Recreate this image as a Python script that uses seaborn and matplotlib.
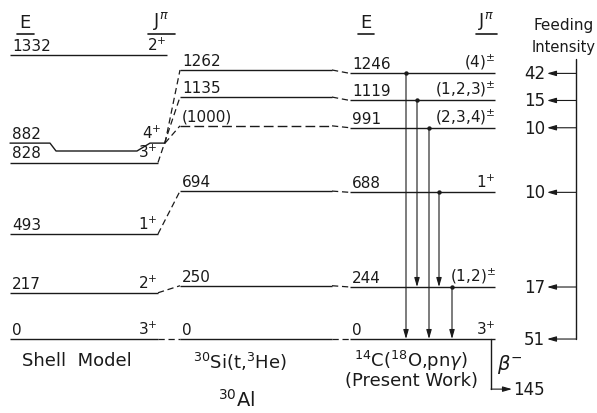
import matplotlib
matplotlib.use("Agg")
import matplotlib.pyplot as plt
import seaborn as sns
import pandas as pd

sns.set_theme(style="white")
plt.rcParams["font.family"] = ["DejaVu Sans"]
plt.rcParams["mathtext.fontset"] = "dejavusans"

# ---- level energies (keV) and spins ----
shell_E = [0, 217, 493, 828, 882, 1332]
shell_J = [r"3$^{+}$", r"2$^{+}$", r"1$^{+}$", r"3$^{+}$", r"4$^{+}$", r"2$^{+}$"]

the_E = [0, 250, 694, 1000, 1135, 1262]
the_lbl = ["0", "250", "694", "(1000)", "1135", "1262"]

present_E = [0, 244, 688, 991, 1119, 1246]
present_J = [r"3$^{+}$", r"(1,2)$^{\pm}$", r"1$^{+}$", r"(2,3,4)$^{\pm}$",
             r"(1,2,3)$^{\pm}$", r"(4)$^{\pm}$"]
feeding = [51, 17, 10, 10, 15, 42]
beta_label = "145"

# gamma transitions: initial level, final level
gamma_from = [1246, 1119, 991, 688, 244]
gamma_to = [0, 244, 0, 244, 0]

# shell-model <-> (t,3He) correspondences
shell_link = [(0, 0), (217, 250), (493, 694), (828, 1135), (882, 1262), (882, 1000)]

# ---- layout ----
C1 = (10, 158)
C2 = (180, 332)
C3 = (350, 495)
gamma_x = [406, 417, 429, 439, 452]
FEED_X = 576
RAISE = 37  # keV lift for the 882 label ends
INK = "#1a1a1a"
LW = 1.0
HEAD = "-|>,head_length=0.45,head_width=0.13"

fig = plt.figure(figsize=(5.97, 4.14), dpi=100)
ax = fig.add_axes([0, 0, 1, 1])
ax.set_xlim(0, 597)
ax.set_ylim(-347, 1595)
ax.axis("off")


def level(x0, x1, e, dashed=False):
    ax.plot([x0, x1], [e, e], color=INK, lw=LW, ls=(0, (7, 3)) if dashed else "-",
            solid_capstyle="butt")


def above(x, e, s, ha="left", size=11):
    ax.annotate(s, (x, e), xytext=(0, 1.5), textcoords="offset points",
                ha=ha, va="bottom", fontsize=size, color=INK)


def link(x0, e0, x1, e1):
    ax.plot([x0, x1], [e0, e1], color=INK, lw=0.9, ls=(0, (5, 3)))


def arrow(x0, e0, x1, e1):
    ax.annotate("", xy=(x1, e1), xytext=(x0, e0),
                arrowprops=dict(arrowstyle=HEAD, color=INK, lw=0.8,
                                shrinkA=0, shrinkB=0))


# ---- shell model column ----
for e, j in zip(shell_E, shell_J):
    if e == 882:
        top = e + RAISE
        ax.plot([C1[0], 50, 56, 137, 150, 165], [top, top, e, e, top, top],
                color=INK, lw=LW)
        above(C1[0] + 2, top, str(e))
        above(162, top, j, ha="right")
        continue
    x1 = 167 if e == 1332 else C1[1]
    level(C1[0], x1, e)
    above(C1[0] + 2, e, str(e))
    above(x1, e, j, ha="right")

# ---- (t,3He) column ----
for e, s in zip(the_E, the_lbl):
    level(C2[0], C2[1], e, dashed=(s.startswith("(")))
    above(C2[0] + 2, e, s)

# ---- present work column ----
for e, j in zip(present_E, present_J):
    level(C3[0], C3[1], e)
    above(C3[0] + 2, e, str(e))
    above(C3[1] + 1, e, j, ha="right")

# ---- correspondence links ----
for es, et in shell_link:
    xs = 165 if es == 882 else C1[1]
    ys = es + RAISE if es == 882 else es
    link(xs, ys, C2[0], et)
for et, ep in zip(the_E, present_E):
    link(C2[1], et, C3[0], ep)

# ---- gamma transitions ----
gdf = pd.DataFrame({"x": gamma_x, "Ei": gamma_from, "Ef": gamma_to})
for _, r in gdf.iterrows():
    arrow(r.x, r.Ei, r.x, r.Ef)
sns.scatterplot(data=gdf, x="x", y="Ei", ax=ax, color=INK, s=10,
                edgecolor=INK, linewidth=0, legend=False)

# ---- feeding intensities ----
ax.plot([FEED_X, FEED_X], [0, 1313], color=INK, lw=LW)
for e, f in zip(present_E, feeding):
    arrow(FEED_X, e, 547, e)
    ax.text(545, e, str(f), ha="right", va="center", fontsize=12, color=INK)
ax.text(564, 1477, "Feeding", ha="center", va="center", fontsize=11, color=INK)
ax.text(564, 1374, "Intensity", ha="center", va="center", fontsize=10.5, color=INK)

# ---- beta decay branch ----
ax.plot([491, 491], [0, -235], color=INK, lw=LW)
arrow(491, -235, 512, -235)
ax.text(513, -235, beta_label, ha="left", va="center", fontsize=12, color=INK)
ax.text(497, -117, r"$\beta^{-}$", ha="left", va="center", fontsize=14, color=INK)

# ---- column headers ----
for x, s in [(25, "E"), (161, r"J$^{\pi}$"), (366, "E"), (486, r"J$^{\pi}$")]:
    ax.text(x, 1443, s, ha="center", va="bottom", fontsize=13, color=INK)
for x0, x1 in [(17, 34), (148, 175), (358, 374), (476, 497)]:
    ax.plot([x0, x1], [1432, 1432], color=INK, lw=1.2)

# ---- reaction labels ----
ax.text(22, -98, "Shell  Model", ha="left", va="center", fontsize=13, color=INK)
ax.text(193, -105, r"$^{30}$Si(t,$^{3}$He)", ha="left", va="center", fontsize=13, color=INK)
ax.text(354, -100, r"$^{14}$C($^{18}$O,pn$\gamma$)", ha="left", va="center",
        fontsize=13, color=INK)
ax.text(345, -192, "(Present Work)", ha="left", va="center", fontsize=13, color=INK)
ax.text(218, -281, r"$^{30}$Al", ha="left", va="center", fontsize=14, color=INK)

fig.savefig("out.png", dpi=100, facecolor="white")
